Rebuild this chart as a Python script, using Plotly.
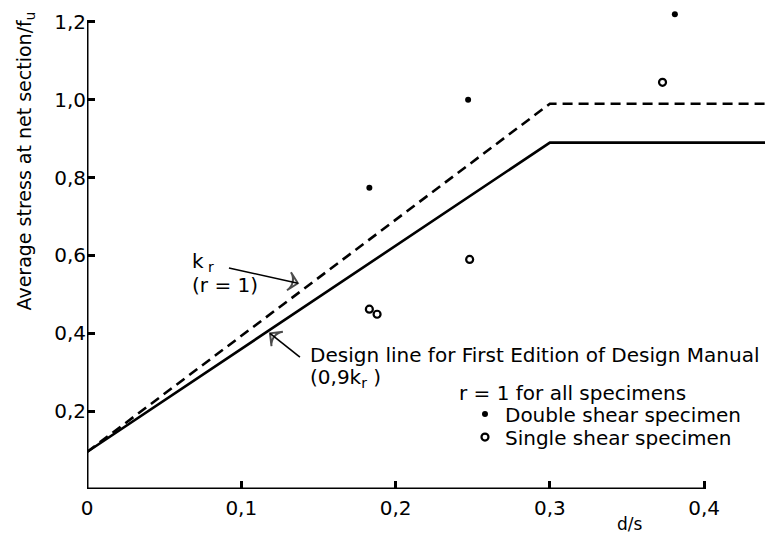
import plotly.graph_objects as go

# design curves (d/s vs stress ratio)
kr_x = [0.0, 0.3, 0.45]
kr_y = [0.095, 0.99, 0.99]
design_x = [0.0, 0.3, 0.45]
design_y = [0.095, 0.89, 0.89]

# test results
double_x = [0.183, 0.247, 0.381]
double_y = [0.774, 1.0, 1.22]
single_x = [0.183, 0.188, 0.248, 0.373]
single_y = [0.462, 0.449, 0.59, 1.045]

x_ticks = [0, 0.1, 0.2, 0.3, 0.4]
x_labels = ["0", "0,1", "0,2", "0,3", "0,4"]
y_ticks = [0.2, 0.4, 0.6, 0.8, 1.0, 1.2]
y_labels = ["0,2", "0,4", "0,6", "0,8", "1,0", "1,2"]

FONT = "DejaVu Sans"
BLACK = "#000000"

fig = go.Figure()
fig.add_trace(go.Scatter(x=kr_x, y=kr_y, mode="lines", showlegend=False,
                         line=dict(color=BLACK, width=2.6, dash="10px,6px")))
fig.add_trace(go.Scatter(x=design_x, y=design_y, mode="lines", showlegend=False,
                         line=dict(color=BLACK, width=2.6)))
fig.add_trace(go.Scatter(x=double_x, y=double_y, mode="markers", name="Double shear specimen",
                         cliponaxis=False, legend="legend",
                         marker=dict(color=BLACK, size=6, symbol="circle")))
fig.add_trace(go.Scatter(x=single_x, y=single_y, mode="markers", name="Single shear specimen",
                         cliponaxis=False, legend="legend2",
                         marker=dict(color=BLACK, size=7, symbol="circle-open",
                                     line=dict(width=2.2, color=BLACK))))

# arrows pointing at the two lines
arrows = [((0.092, 0.568), (0.1367, 0.5286)), ((0.138, 0.339), (0.1186, 0.400))]
for (x0, y0), (x1, y1) in arrows:
    fig.add_trace(go.Scatter(x=[x0, x1], y=[y0, y1], mode="lines+markers", showlegend=False,
                             line=dict(color=BLACK, width=1.6),
                             marker=dict(symbol="arrow-wide-open", size=[0, 13], angleref="previous",
                                         color=BLACK, line=dict(color=BLACK, width=2))))

# axis lines: x stops at 0,4 and y at 1,2
fig.add_shape(type="line", x0=0, x1=0.4, y0=0, y1=0, line=dict(color=BLACK, width=3))
fig.add_shape(type="line", x0=0, x1=0, y0=0, y1=1.2, line=dict(color=BLACK, width=3))

def note(x, y, text, size=20, **kw):
    fig.add_annotation(x=x, y=y, text=text, showarrow=False, xanchor=kw.pop("xanchor", "left"),
                       yanchor="middle", font=dict(family=FONT, size=size, color=BLACK), **kw)

note(0.0668, 0.582, "k<sub> r</sub>")
note(0.0668, 0.523, "(r = 1)")
note(0.143, 0.344, "Design line for First Edition of Design Manual")
note(0.143, 0.285, "(0,9k<sub>r</sub> )")
note(0.2398, 0.246, "r = 1 for all specimens")
note(0.352, -0.073, "d/s", size=17, xanchor="center", yref="paper")
note(-0.089, 0.844, "Average stress at net section/f<sub>u</sub>", size=19, xanchor="center",
     xref="paper", textangle=-90)

legend_style = dict(x=0.551, xanchor="left", yanchor="middle", bgcolor="rgba(0,0,0,0)",
                    itemwidth=30, font=dict(size=20))

# page body has an 8px margin, so the figure is shifted by 8px
fig.update_layout(
    width=773, height=535,
    margin=dict(l=79, r=8, t=0, b=54),
    paper_bgcolor="white", plot_bgcolor="white",
    font=dict(family=FONT, size=19, color=BLACK),
    legend=dict(y=0.156, **legend_style),
    legend2=dict(y=0.108, **legend_style),
    xaxis=dict(range=[0, 0.4446], tickvals=x_ticks, ticktext=x_labels, showgrid=False,
               zeroline=False, showline=False, ticks="inside", ticklen=8, tickwidth=3,
               tickcolor=BLACK, fixedrange=True, ticklabelstandoff=5,
               tickfont=dict(family=FONT, size=20)),
    yaxis=dict(range=[0, 1.2359], tickvals=y_ticks, ticktext=y_labels, showgrid=False,
               zeroline=False, showline=False,
               ticks="inside", ticklen=8, tickwidth=3, tickcolor=BLACK, fixedrange=True,
               tickfont=dict(family=FONT, size=20)),
)

fig.write_html("out.html")
